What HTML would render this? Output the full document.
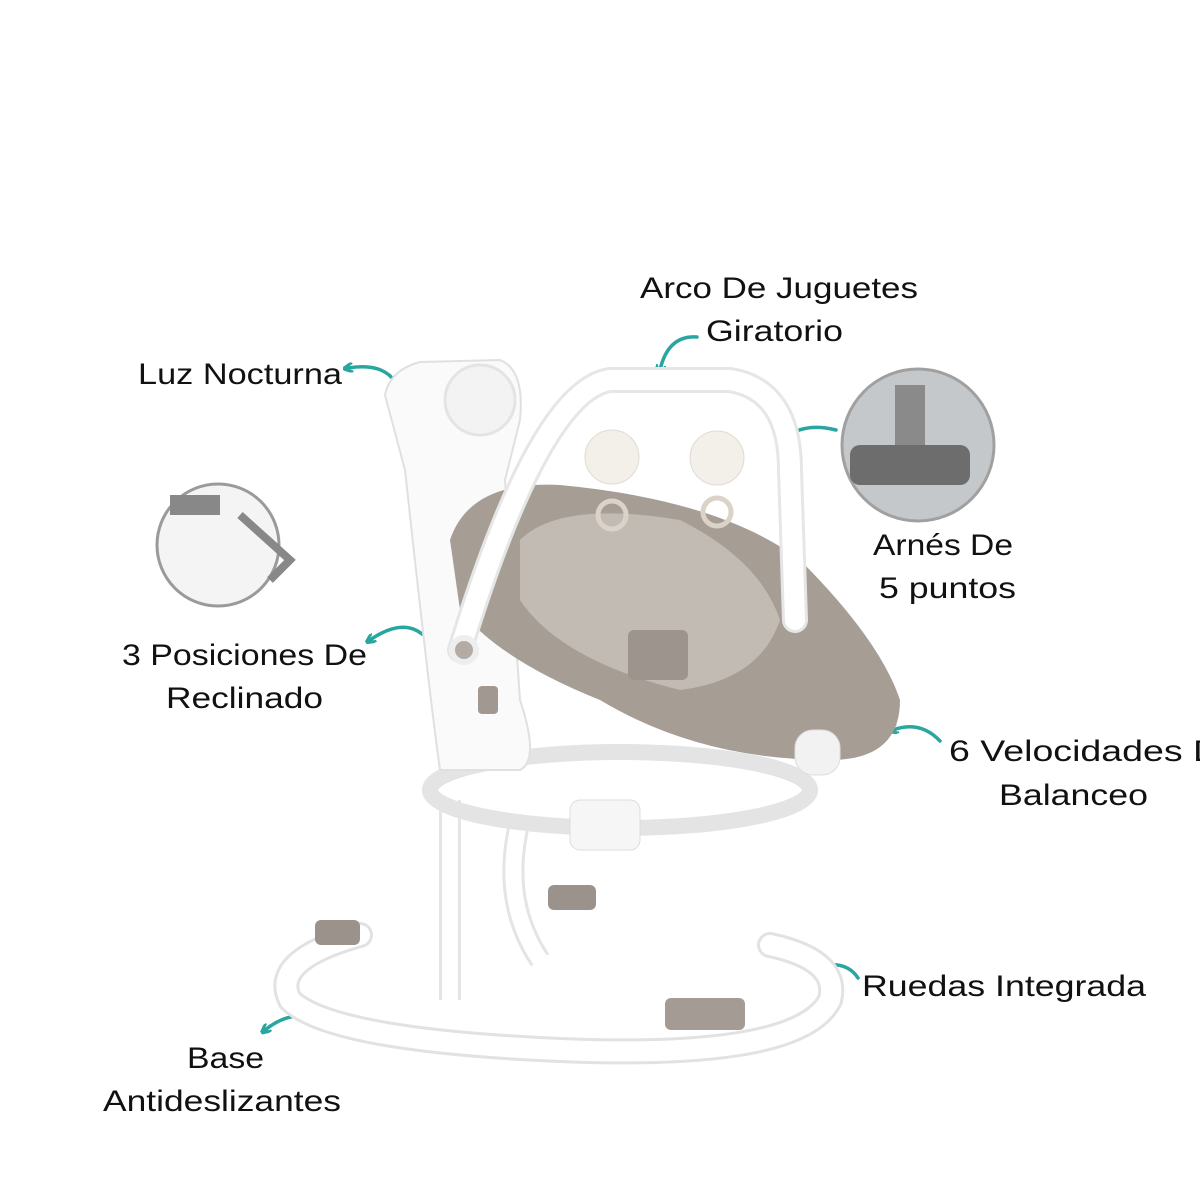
<!DOCTYPE html>
<html><head><meta charset="utf-8"><style>
html,body{margin:0;padding:0;background:#fff;}
svg{display:block}
text{font-family:"Liberation Sans",sans-serif;font-size:30px;fill:#111;}
</style></head><body>
<svg width="1200" height="1200" viewBox="0 0 1200 1200" xmlns="http://www.w3.org/2000/svg">
<defs>
<marker id="ah" markerWidth="10" markerHeight="10" refX="5" refY="5" orient="auto" markerUnits="userSpaceOnUse">
<path d="M0,0 L10,5 L0,10" fill="none" stroke="#2aa59f" stroke-width="3"/>
</marker>
</defs>
<g fill="none" stroke="#2aa59f" stroke-width="3.5" stroke-linecap="round">
<path d="M697,337 Q668,335 660,370" marker-end="url(#ah)"/>
<path d="M397,385 Q385,362 348,368" marker-end="url(#ah)"/>
<path d="M836,430 Q805,422 784,438" marker-end="url(#ah)"/>
<path d="M422,634 Q402,618 370,640" marker-end="url(#ah)"/>
<path d="M940,741 Q920,720 893,730" marker-end="url(#ah)"/>
<path d="M858,978 Q845,958 812,968" marker-end="url(#ah)"/>
<path d="M316,1018 Q290,1010 265,1030" marker-end="url(#ah)"/>
</g>
<!-- base -->
<path d="M360,935 Q270,960 290,1000 Q330,1040 560,1050 Q800,1060 830,1000 Q840,960 770,945" fill="none" stroke="#e2e2e2" stroke-width="26" stroke-linecap="round"/>
<path d="M360,935 Q270,960 290,1000 Q330,1040 560,1050 Q800,1060 830,1000 Q840,960 770,945" fill="none" stroke="#fff" stroke-width="20" stroke-linecap="round"/>
<rect x="315" y="920" width="45" height="25" rx="6" fill="#9a928b"/>
<rect x="548" y="885" width="48" height="25" rx="6" fill="#9a928b"/>
<rect x="665" y="998" width="80" height="32" rx="6" fill="#a39b94"/>
<path d="M450,800 L450,1000 M520,820 Q500,900 540,960" stroke="#e4e4e4" stroke-width="22" fill="none"/>
<path d="M450,800 L450,1000 M520,820 Q500,900 540,960" stroke="#fff" stroke-width="16" fill="none"/>
<ellipse cx="620" cy="790" rx="190" ry="38" fill="none" stroke="#e4e4e4" stroke-width="16"/>
<rect x="570" y="800" width="70" height="50" rx="10" fill="#f6f6f6" stroke="#ddd"/>
<path d="M385,395 Q390,370 420,362 L500,360 Q525,370 520,420 L505,480 L520,700 Q540,760 520,770 L440,770 Q430,700 405,470 Z" fill="#fafafa" stroke="#e0e0e0" stroke-width="2"/>
<circle cx="480" cy="400" r="35" fill="#f3f3f3" stroke="#e4e4e4" stroke-width="3"/>
<rect x="478" y="686" width="20" height="28" rx="4" fill="#a19991"/>
<path d="M450,540 Q470,480 560,485 Q720,500 800,560 Q880,640 900,700 Q900,760 830,760 Q700,760 600,700 Q500,660 460,610 Z" fill="#a69e95"/>
<path d="M520,540 Q560,500 680,520 Q760,560 780,620 Q760,680 680,690 Q560,660 520,600 Z" fill="#c2bbb3"/>
<rect x="628" y="630" width="60" height="50" rx="6" fill="#9d958d"/>
<path d="M460,650 Q540,390 610,380 L730,380 Q790,390 790,470 L795,620" fill="none" stroke="#e6e6e6" stroke-width="26" stroke-linecap="round"/>
<path d="M460,650 Q540,390 610,380 L730,380 Q790,390 790,470 L795,620" fill="none" stroke="#fff" stroke-width="20" stroke-linecap="round"/>
<circle cx="464" cy="650" r="12" fill="#b4aca4" stroke="#eee" stroke-width="6"/>
<circle cx="612" cy="457" r="27" fill="#f3efe9" stroke="#e0dbd3"/>
<circle cx="717" cy="458" r="27" fill="#f3efe9" stroke="#e0dbd3"/>
<circle cx="612" cy="515" r="14" fill="none" stroke="#dcd3c8" stroke-width="5"/>
<circle cx="717" cy="512" r="14" fill="none" stroke="#dcd3c8" stroke-width="5"/>
<rect x="795" y="730" width="45" height="45" rx="18" fill="#f2f2f2" stroke="#ddd"/>
<circle cx="218" cy="545" r="61" fill="#f4f4f4" stroke="#9a9a9a" stroke-width="3"/>
<rect x="170" y="495" width="50" height="20" fill="#888"/>
<path d="M240,515 L290,560 L270,580" fill="none" stroke="#888" stroke-width="8"/>
<circle cx="918" cy="445" r="76" fill="#c4c8ca" stroke="#a0a0a0" stroke-width="3"/>
<rect x="850" y="445" width="120" height="40" rx="10" fill="#6d6d6d"/>
<rect x="895" y="385" width="30" height="60" fill="#8a8a8a"/>
<text x="640" y="298" textLength="278" lengthAdjust="spacingAndGlyphs">Arco De Juguetes</text>
<text x="706" y="341" textLength="137" lengthAdjust="spacingAndGlyphs">Giratorio</text>
<text x="138" y="384" textLength="204" lengthAdjust="spacingAndGlyphs">Luz Nocturna</text>
<text x="873" y="555" textLength="140" lengthAdjust="spacingAndGlyphs">Arnés De</text>
<text x="879" y="598" textLength="137" lengthAdjust="spacingAndGlyphs">5 puntos</text>
<text x="122" y="665" textLength="245" lengthAdjust="spacingAndGlyphs">3 Posiciones De</text>
<text x="166" y="708" textLength="157" lengthAdjust="spacingAndGlyphs">Reclinado</text>
<text x="949" y="761" textLength="292" lengthAdjust="spacingAndGlyphs">6 Velocidades De</text>
<text x="999" y="805" textLength="149" lengthAdjust="spacingAndGlyphs">Balanceo</text>
<text x="862" y="996" textLength="284" lengthAdjust="spacingAndGlyphs">Ruedas Integrada</text>
<text x="187" y="1068" textLength="77" lengthAdjust="spacingAndGlyphs">Base</text>
<text x="103" y="1111" textLength="238" lengthAdjust="spacingAndGlyphs">Antideslizantes</text>
</svg>
</body></html>
